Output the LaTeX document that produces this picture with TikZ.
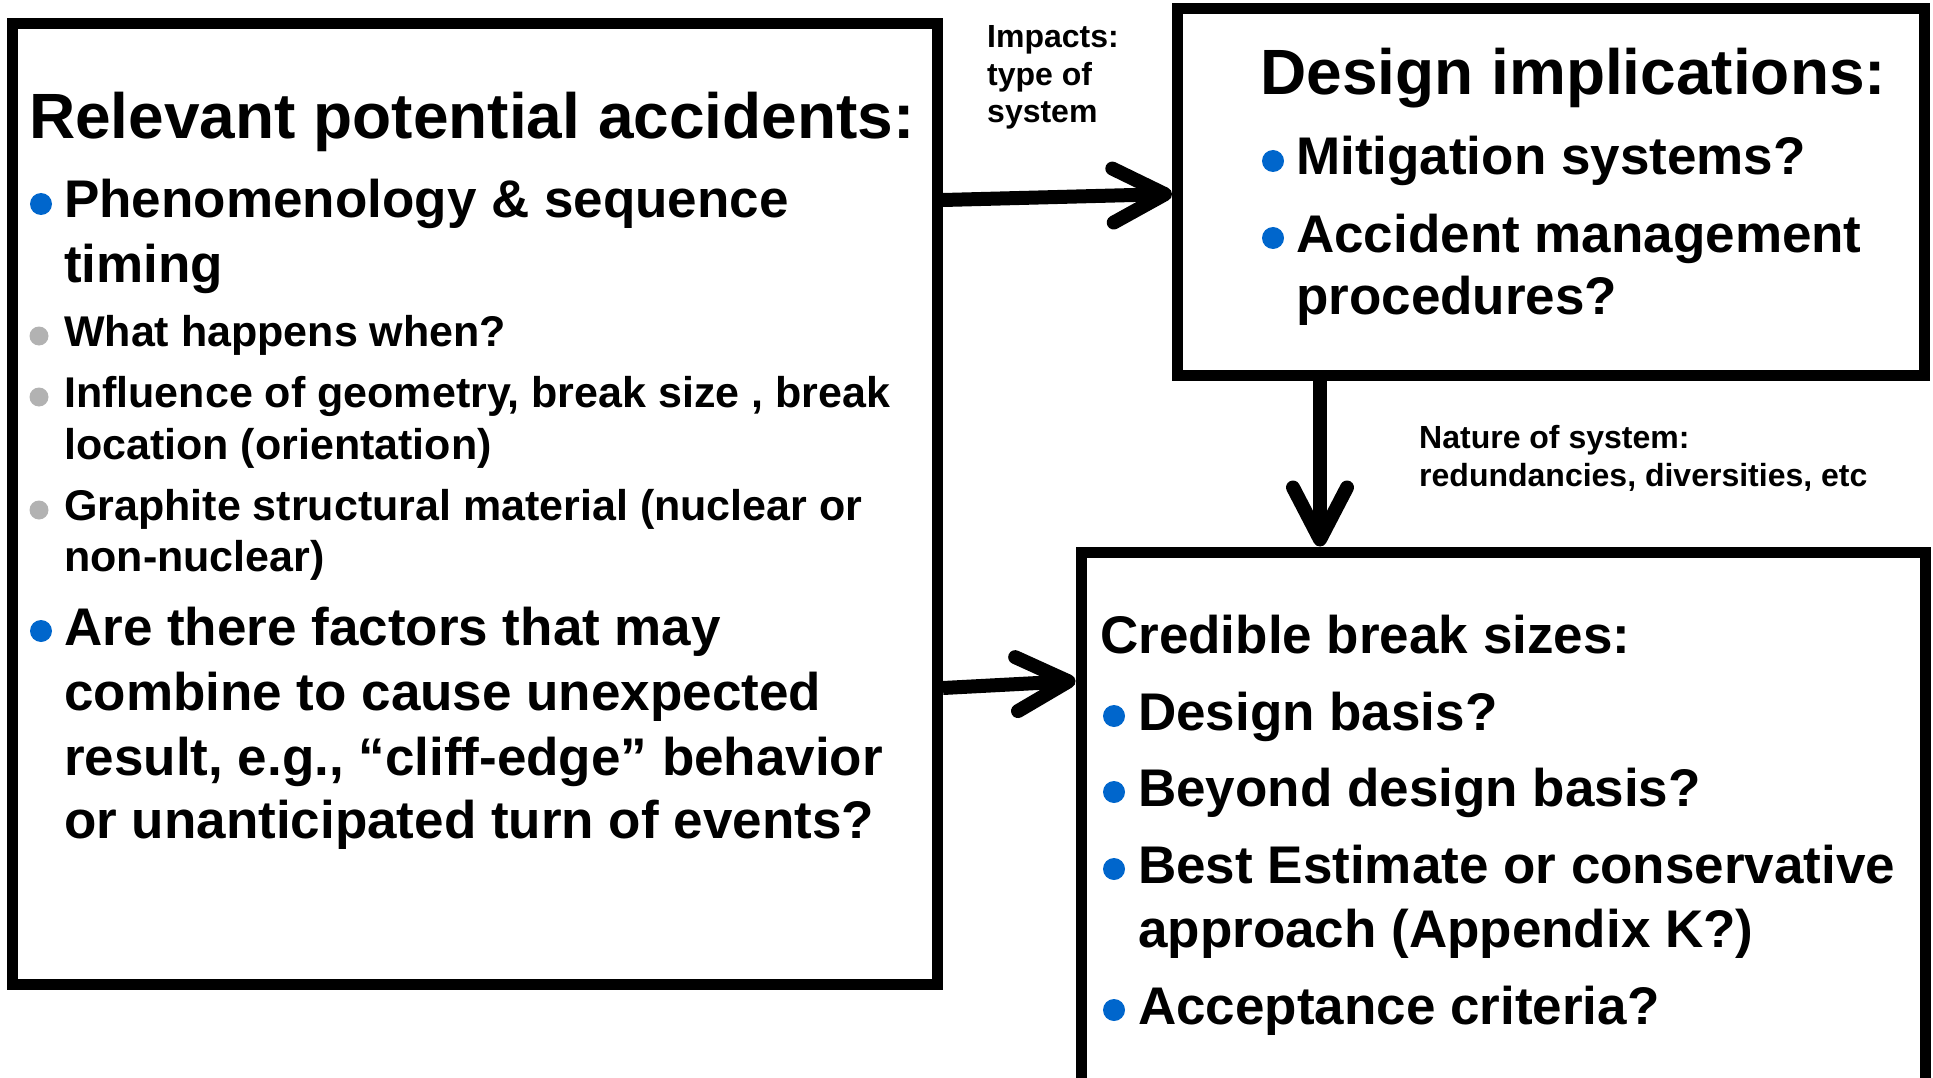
\documentclass[tikz,border=0pt]{standalone}
\usepackage{fontspec}
\setmainfont{Liberation Sans}
\usepackage{tikz}
\usetikzlibrary{ positioning, arrows.meta }
\usepackage{xcolor}
\definecolor{bulblue}{HTML}{0066CC}
\definecolor{bulgrey}{HTML}{B2B2B2}

\begin{document}
\begin{tikzpicture}[
  x=1pt, y=-1pt,
  box/.style={draw, line width=11pt, minimum width=#1, inner sep=0pt},
  ttl/.style={anchor=base west, inner sep=0pt, font=\fontsize{64}{76}\selectfont\bfseries},
  big/.style={anchor=base west, inner sep=0pt, font=\fontsize{53}{64}\selectfont\bfseries},
  sub/.style={anchor=base west, inner sep=0pt, font=\fontsize{43}{50}\selectfont\bfseries},
  lbl/.style={anchor=base west, inner sep=0pt, font=\fontsize{32}{38}\selectfont\bfseries},
  ar/.style={-{Straight Barb[length=52pt, width=54pt, round]}, line width=14pt},
]
  \useasboundingbox (0,0) rectangle (1933,1078);

  % the three boxes
  \node[box=925pt, minimum height=961pt] (acc) at (475,504) {};
  \node[box=747pt, minimum height=366pt] (des) at (1551,192) {};
  \node[box=844pt, minimum height=548pt] (cred) at (1503,826) {};

  % left box
  \node[ttl] (t1) at (29,139) {Relevant potential accidents:};
  \node[big] (a1) at (64,218) {Phenomenology \& sequence};
  \node[big] (a1b) at (64,282) {timing};
  \node[sub] (s1) at (64,346) {What happens when?};
  \node[sub] (s2) at (64,407) {Influence of geometry, break size , break};
  \node[sub] (s2b) at (64,459) {location (orientation)};
  \node[sub] (s3) at (64,520) {Graphite structural material (nuclear or};
  \node[sub] (s3b) at (64,571) {non-nuclear)};
  \node[big] (a2) at (64,645) {Are there factors that may};
  \node[big] (a2b) at (64,710) {combine to cause unexpected};
  \node[big] (a2c) at (64,775) {result, e.g., ``cliff-edge'' behavior};
  \node[big] (a2d) at (64,838) {or unanticipated turn of events?};

  % upper right box
  \node[ttl] (t2) at (1260,95) {Design implications:};
  \node[big] (d1) at (1296,175) {Mitigation systems?};
  \node[big] (d2) at (1296,252) {Accident management};
  \node[big] (d2b) at (1296,314) {procedures?};

  % lower right box
  \node[big] (t3) at (1100,653) {Credible break sizes:};
  \node[big] (c1) at (1138,730) {Design basis?};
  \node[big] (c2) at (1138,806) {Beyond design basis?};
  \node[big] (c3) at (1138,883) {Best Estimate or conservative};
  \node[big] (c3b) at (1138,947) {approach (Appendix K?)};
  \node[big] (c4) at (1138,1024) {Acceptance criteria?};

  % bullets
  \fill[bulblue] ([xshift=-23pt,yshift=14pt]a1.base west) circle (11pt);
  \fill[bulblue] ([xshift=-23pt,yshift=14pt]a2.base west) circle (11pt);
  \fill[bulgrey] ([xshift=-25pt,yshift=10pt]s1.base west) circle (9.5pt);
  \fill[bulgrey] ([xshift=-25pt,yshift=10pt]s2.base west) circle (9.5pt);
  \fill[bulgrey] ([xshift=-25pt,yshift=10pt]s3.base west) circle (9.5pt);
  \fill[bulblue] ([xshift=-23pt,yshift=14pt]d1.base west) circle (11pt);
  \fill[bulblue] ([xshift=-23pt,yshift=14pt]d2.base west) circle (11pt);
  \fill[bulblue] ([xshift=-24pt,yshift=14pt]c1.base west) circle (11pt);
  \fill[bulblue] ([xshift=-24pt,yshift=14pt]c2.base west) circle (11pt);
  \fill[bulblue] ([xshift=-24pt,yshift=14pt]c3.base west) circle (11pt);
  \fill[bulblue] ([xshift=-24pt,yshift=14pt]c4.base west) circle (11pt);

  % arrow labels
  \node[lbl] (imp) at (987,48) {Impacts:};
  \node[lbl] (imp2) at (987,86) {type of};
  \node[lbl] (imp3) at (987,123) {system};
  \node[lbl] (nat) at (1419,448) {Nature of system:};
  \node[lbl] (nat2) at (1419,486) {redundancies, diversities, etc};

  % connectors
  \coordinate (vx) at (1320,0);
  \draw[ar] ([yshift=304pt]acc.east) -- ([yshift=-2pt]des.west);
  \draw[ar] ([yshift=-184pt]acc.east) -- ([yshift=145pt]cred.west);
  \draw[ar] (des.south -| vx) -- (cred.north -| vx);
\end{tikzpicture}
\end{document}
